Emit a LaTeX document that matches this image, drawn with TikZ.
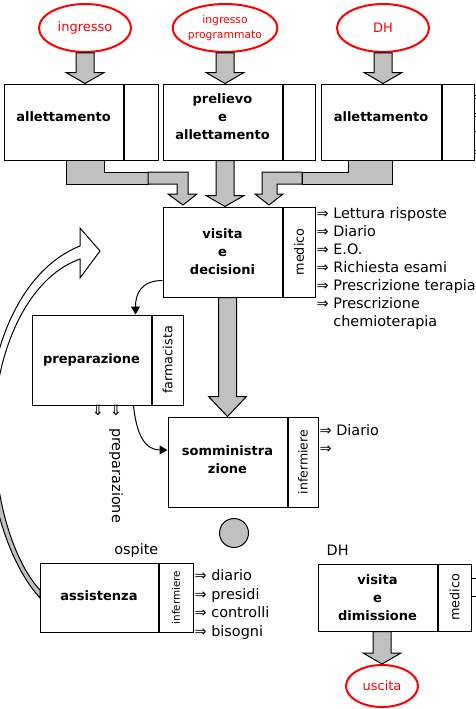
\documentclass[tikz,border=0pt]{standalone}
\usepackage{fontspec}
\setmainfont{DejaVu Sans}
\usetikzlibrary{shapes.geometric,arrows.meta,positioning,calc}
\definecolor{flowgray}{RGB}{192,192,192}
\definecolor{flowred}{RGB}{255,0,0}
\tikzset{
  mainbox/.style={rectangle, draw, line width=1pt, fill=white, minimum width=119,
                  minimum height=#1, inner sep=0pt, align=center,
                  font=\fontsize{13}{18}\selectfont\bfseries},
  mainbox/.default=90,
  sidebox/.style={rectangle, draw, line width=1pt, fill=white, minimum width=32,
                  minimum height=#1, inner sep=0pt},
  sidebox/.default=90,
  sidelab/.style={rotate=90, inner sep=0pt, font=\fontsize{12.8}{14}\selectfont},
  entry/.style={ellipse, draw=flowred, line width=2pt, text=flowred, fill=white,
                minimum width=92, minimum height=48, inner sep=0pt, align=center,
                font=\fontsize{13}{15}\selectfont},
  outtxt/.style={anchor=base west, inner sep=0pt, font=\fontsize{14.4}{18}\selectfont},
  outstub/.style={double, double distance=2.4pt, line width=0.8pt},
  blockar/.style={draw, line width=1pt, fill=flowgray, line join=miter},
  thinar/.style={-{Triangle[length=8pt,width=9pt]}, line width=1pt},
}
% gray block arrow pointing down: from, to, head length
\newcommand{\downblock}[3]{%
  \path[blockar] let \p1=(#1), \p2=(#2) in
    (\x1-9pt,\y1) -- (\x1+9pt,\y1) -- (\x1+9pt,\y2+#3pt) -- (\x1+19pt,\y2+#3pt)
    -- (\x1,\y2) -- (\x1-19pt,\y2+#3pt) -- (\x1-9pt,\y2+#3pt) -- cycle;}

\begin{document}
\begin{tikzpicture}[x=1pt,y=-1pt]
  \clip (0,0) rectangle (476,709);
  \fill[white] (0,0) rectangle (476,709);

  % return arrow on the left
  \draw[line width=1pt, fill=flowgray] (40,598) .. controls (10,565) and (-12,500) .. (-12,430)
    -- (-6,430) .. controls (-6,500) and (14,562) .. (40,590) -- cycle;
  \draw[line width=1pt, fill=white] (-12,430) .. controls (-12,350) and (20,270) .. (80,246)
    -- (80,228) -- (100,251) -- (80,278) -- (80,259)
    .. controls (26,278) and (-6,355) .. (-6,430) -- cycle;

  % entries
  \node[entry] (ing) at (85,28) {ingresso};
  \node[entry, font=\fontsize{10.8}{14.5}\selectfont] (ingp) at (225,28) {ingresso\\programmato};
  \node[entry] (dh) at (383,28) {DH};

  % top row
  \node[mainbox=76, text depth=10pt] (allA) at (63.5,122) {allettamento};
  \node[sidebox=76, minimum width=34, right=0pt of allA] (allAs) {};
  \node[mainbox=76, text depth=10pt] (prel) at (222.5,122) {prelievo\\e\\allettamento};
  \node[sidebox=76, right=0pt of prel] (prels) {};
  \node[mainbox=76, text depth=10pt, minimum width=120] (allB) at (381,122) {allettamento};
  \node[sidebox=76, right=0pt of allB] (allBs) {};
  \foreach \i in {1,...,4}
    \draw[outstub] ($(allBs.north east)+(0,-5+18.3*\i)$) -- +(6,0);

  \downblock{ing.south}{ing.south |- allA.north}{11}
  \downblock{ingp.south}{ingp.south |- allB.north}{11}
  \downblock{dh.south}{dh.south |- allB.north}{11}

  % visita e decisioni
  \node[mainbox] (visita) at (222.5,252) {visita\\e\\decisioni};
  \node[sidebox, right=0pt of visita] (visitaS) {};
  \node[sidelab] (visitaL) at (visitaS.center) {medico};
  \foreach \t [count=\i] in {Lettura risposte,Diario,E.O.,Richiesta esami,Prescrizione terapia,Prescrizione}
    \node[outtxt] (vout\i) at ($(visitaS.north east)+(1,-6+18*\i)$) {⇒ \t};
  \node[outtxt] (vout7) at ($(vout6.base west)+(0,18)$) {\hphantom{⇒ }chemioterapia};

  % merging arrows
  \draw[blockar] (66,160) -- (104,160) -- (104,172) -- (148,172) -- (148,184) -- (66,184) -- cycle;
  \draw[blockar] (148,172) -- (188,172) -- (188,194) -- (197,194) -- (183,205) -- (168,194)
    -- (177,194) -- (177,184) -- (148,184) -- cycle;
  \downblock{ingp.south |- prel.south}{ingp.south |- visita.north}{11}
  \draw[blockar] (348,160) -- (392,160) -- (392,184) -- (302,184) -- (302,172) -- (348,172) -- cycle;
  \draw[blockar] (302,172) -- (262,172) -- (262,194) -- (255,194) -- (269,205) -- (283,194)
    -- (277,194) -- (277,184) -- (302,184) -- cycle;

  % preparazione
  \node[mainbox] (prep) at (91.5,360) {preparazione};
  \node[sidebox, minimum width=31, right=0pt of prep] (prepS) {};
  \node[sidelab] (prepL) at (prepS.center) {farmacista};
  \node[outtxt, anchor=north] (pdown1) at (98,405) {⇓};
  \node[outtxt, anchor=north] (pdown2) at (116,405) {⇓};
  \node[outtxt, rotate=-90, anchor=west] (preptxt) at (116,428) {preparazione};

  % somministrazione
  \node[mainbox, text depth=4pt] (somm) at (227.5,462) {somministra\\zione};
  \node[sidebox, minimum width=30, right=0pt of somm] (sommS) {};
  \node[sidelab, font=\fontsize{12.5}{14}\selectfont] (sommL) at (sommS.center) {infermiere};
  \foreach \t [count=\i] in {⇒ Diario,⇒}
    \node[outtxt] (sout\i) at ($(sommS.north east)+(1,1+18*\i)$) {\t};
  \downblock{somm.north |- visita.south}{somm.north}{20}

  % thin arrows
  \coordinate (vleft) at ($(visita.south west)+(0,-17)$);
  \coordinate (preptop) at ($(prep.north east)+(-16,0)$);
  \draw[thinar] (vleft) .. controls +(-22,0) and +(0,-20) .. (preptop);
  \coordinate (prepbot) at ($(prep.south east)+(-18,0)$);
  \coordinate (sommin) at ($(somm.west)+(0,-12)$);
  \draw[thinar] (prepbot) .. controls +(3,30) and +(-22,0) .. (sommin);

  \node[circle, draw, line width=1pt, fill=flowgray, minimum size=29, inner sep=0pt] (dot) at (234,533) {};

  % assistenza
  \node[mainbox=69, minimum width=118, text depth=3pt] (assist) at (99,597.5) {assistenza};
  \node[sidebox=69, minimum width=34, right=0pt of assist] (assistS) {};
  \node[sidelab, font=\fontsize{10.4}{12}\selectfont] (assistL) at (assistS.center) {infermiere};
  \node[outtxt, anchor=base east] (ospite) at ($(assist.north east)+(0,-8)$) {ospite};
  \foreach \t [count=\i] in {diario,presidi,controlli,bisogni}
    \node[outtxt] (aout\i) at ($(assistS.north east)+(1,18.4*\i)$) {⇒ \t};

  % visita e dimissione
  \node[mainbox=67] (dim) at (377.5,597.5) {visita\\e\\dimissione};
  \node[sidebox=67, minimum width=33, right=0pt of dim] (dimS) {};
  \node[sidelab] (dimL) at (dimS.center) {medico};
  \node[outtxt] (dhlab) at ($(dim.north west)+(9,-8)$) {DH};
  \foreach \i in {1,2}
    \draw[outstub] ($(dimS.north east)+(0,-5+18*\i)$) -- +(8,0);

  \node[entry, minimum width=72, minimum height=42] (usc) at (382,686) {uscita};
  \downblock{usc.north |- dim.south}{usc.north}{11}
\end{tikzpicture}
\end{document}
